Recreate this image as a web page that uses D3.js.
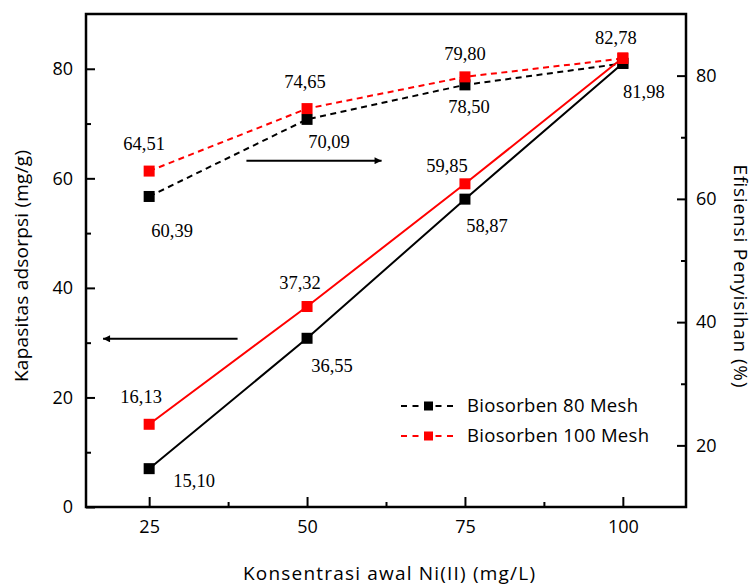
<!DOCTYPE html>
<html>
<head>
<meta charset="utf-8">
<script src="https://cdn.jsdelivr.net/npm/d3@7"></script>
<style>
  body { margin: 0; background: #fff; }
  .axis text { font-family: 'Open Sans', sans-serif; font-size: 18px; fill: #000; }
  .axis path, .axis line { stroke: #000; }
</style>
</head>
<body>
<div id="chart"></div>
<script>
// Data
const concentrations = [25, 50, 75, 100];
const capacity80 = [7.0, 30.8, 56.2, 81.0];        // left axis, solid black
const capacity100 = [15.1, 36.6, 59.0, 82.0];      // left axis, solid red
const efficiency80 = [60.39, 72.9, 78.5, 81.98];   // right axis, dashed black
const efficiency100 = [64.51, 74.65, 79.8, 82.78]; // right axis, dashed red

const labelsEff100 = ["64,51", "74,65", "79,80", "82,78"];
const labelsEff80 = ["60,39", "70,09", "78,50", "81,98"];
const labelsCap100 = ["16,13", "37,32", "59,85", null];
const labelsCap80 = ["15,10", "36,55", "58,87", null];

const xTicks = [25, 50, 75, 100];
const xMinorTicks = [37.5, 62.5, 87.5];
const leftTicks = [0, 20, 40, 60, 80];
const leftMinorTicks = [10, 30, 50, 70];
const rightTicks = [20, 40, 60, 80];
const rightMinorTicks = [30, 50, 70];

const seriesNames = ["Biosorben 80 Mesh", "Biosorben 100 Mesh"];
const seriesColors = ["#000000", "#ff0000"];

const margin = { top: 14, right: 69, bottom: 78, left: 86 };
const width = 755 - margin.left - margin.right;
const height = 585 - margin.top - margin.bottom;

const svg = d3.select("#chart").append("svg")
    .attr("width", 755)
    .attr("height", 585)
    .append("g")
    .attr("transform", `translate(${margin.left},${margin.top})`);

const x = d3.scaleLinear().domain([15, 110]).range([0, width]);
const yLeft = d3.scaleLinear().domain([0, 90]).range([height, 0]);
const yRight = d3.scaleLinear().domain([10, 90]).range([height, 0]);

// Axes (ticks point inward)
svg.append("g").attr("class", "axis")
    .attr("transform", `translate(0,${height})`)
    .call(d3.axisBottom(x).tickValues(xTicks).tickSize(-10).tickPadding(13).tickFormat(d3.format("d")))
    .call(g => g.selectAll("line").attr("stroke-width", 2));
svg.append("g").attr("class", "axis")
    .attr("transform", `translate(0,${height})`)
    .call(d3.axisBottom(x).tickValues(xMinorTicks).tickSize(-5).tickFormat(""))
    .call(g => g.selectAll("line").attr("stroke-width", 2));

svg.append("g").attr("class", "axis")
    .call(d3.axisLeft(yLeft).tickValues(leftTicks).tickSize(-9).tickPadding(13))
    .call(g => g.selectAll("line").attr("stroke-width", 2));
svg.append("g").attr("class", "axis")
    .call(d3.axisLeft(yLeft).tickValues(leftMinorTicks).tickSize(-5).tickFormat(""))
    .call(g => g.selectAll("line").attr("stroke-width", 2));

svg.append("g").attr("class", "axis")
    .attr("transform", `translate(${width},0)`)
    .call(d3.axisRight(yRight).tickValues(rightTicks).tickSize(-9).tickPadding(10))
    .call(g => g.selectAll("line").attr("stroke-width", 2));
svg.append("g").attr("class", "axis")
    .attr("transform", `translate(${width},0)`)
    .call(d3.axisRight(yRight).tickValues(rightMinorTicks).tickSize(-5).tickFormat(""))
    .call(g => g.selectAll("line").attr("stroke-width", 2));

svg.selectAll(".axis path").remove();

// Frame
svg.append("rect")
    .attr("width", width)
    .attr("height", height)
    .attr("fill", "none")
    .attr("stroke", "#000")
    .attr("stroke-width", 2.5);

// Axis titles (stretched to the widths seen in the reference)
function title(text, tx, ty, rot, len) {
    svg.append("text")
        .attr("transform", `translate(${tx - margin.left},${ty - margin.top}) rotate(${rot})`)
        .attr("text-anchor", "middle")
        .attr("textLength", len)
        .attr("lengthAdjust", "spacing")
        .style("font-family", "'Open Sans', sans-serif")
        .style("font-size", "19px")
        .text(text);
}
title("Kapasitas adsorpsi (mg/g)", 28, 266, -90, 232);
title("Efisiensi Penyisihan (%)", 734, 276, 90, 223);
title("Konsentrasi awal Ni(II) (mg/L)", 389, 580, 0, 292);

// Lines
function drawSeries(values, scale, color, dashed) {
    const line = d3.line()
        .x((d, i) => x(concentrations[i]))
        .y(d => scale(d));
    svg.append("path")
        .datum(values)
        .attr("d", line)
        .attr("fill", "none")
        .attr("stroke", color)
        .attr("stroke-width", 2)
        .attr("stroke-dasharray", dashed ? "6,4.5" : null);
}

function drawMarkers(values, scale, color) {
    svg.selectAll(null)
        .data(values)
        .enter().append("rect")
        .attr("x", (d, i) => x(concentrations[i]) - 5.5)
        .attr("y", d => scale(d) - 5.5)
        .attr("width", 11)
        .attr("height", 11)
        .attr("fill", color);
}

drawSeries(efficiency80, yRight, seriesColors[0], true);
drawSeries(capacity80, yLeft, seriesColors[0], false);
drawSeries(efficiency100, yRight, seriesColors[1], true);
drawSeries(capacity100, yLeft, seriesColors[1], false);
drawMarkers(efficiency80, yRight, seriesColors[0]);
drawMarkers(capacity80, yLeft, seriesColors[0]);
drawMarkers(efficiency100, yRight, seriesColors[1]);
drawMarkers(capacity100, yLeft, seriesColors[1]);

// Value labels (offsets from each marker)
function drawLabels(texts, values, scale, offsets) {
    texts.forEach((t, i) => {
        if (t === null) return;
        svg.append("text")
            .attr("x", x(concentrations[i]) + offsets[i][0])
            .attr("y", scale(values[i]) + offsets[i][1])
            .attr("text-anchor", "middle")
            .attr("dy", "0.35em")
            .style("font-family", "'Liberation Serif', 'Times New Roman', serif")
            .style("font-size", "18.5px")
            .text(t);
    });
}

drawLabels(labelsEff100, efficiency100, yRight, [[-5, -28], [-2, -27], [0, -23], [-7, -21]]);
drawLabels(labelsEff80, efficiency80, yRight, [[23, 34], [22, 22], [4, 22], [21, 28]]);
drawLabels(labelsCap100, capacity100, yLeft, [[-8, -28], [-7, -24], [-18, -18], [0, 0]]);
drawLabels(labelsCap80, capacity80, yLeft, [[45, 12], [25, 27], [22, 26], [0, 0]]);

// Arrows showing which axis each group belongs to
svg.append("defs").append("marker")
    .attr("id", "arrowhead")
    .attr("viewBox", "0 0 10 10")
    .attr("refX", 10)
    .attr("refY", 5)
    .attr("markerWidth", 14)
    .attr("markerHeight", 7)
    .attr("markerUnits", "userSpaceOnUse")
    .attr("orient", "auto")
    .append("path")
    .attr("d", "M0,0 L10,5 L0,10 z")
    .attr("fill", "#000");

svg.append("line")
    .attr("x1", x(40.4)).attr("x2", x(61.8))
    .attr("y1", yRight(66.2)).attr("y2", yRight(66.2))
    .attr("stroke", "#000").attr("stroke-width", 2)
    .attr("marker-end", "url(#arrowhead)");

svg.append("line")
    .attr("x1", x(39.0)).attr("x2", x(17.7))
    .attr("y1", yLeft(30.7)).attr("y2", yLeft(30.7))
    .attr("stroke", "#000").attr("stroke-width", 2)
    .attr("marker-end", "url(#arrowhead)");

// Legend
const legend = svg.append("g")
    .attr("transform", `translate(${401 - margin.left},${406 - margin.top})`);

const legendTextLengths = [171, 182];
seriesNames.forEach((name, i) => {
    const row = legend.append("g").attr("transform", `translate(0,${i * 30})`);
    row.append("line")
        .attr("x1", 0).attr("x2", 55)
        .attr("stroke", seriesColors[i])
        .attr("stroke-width", 2)
        .attr("stroke-dasharray", "6,5.5");
    row.append("rect")
        .attr("x", 23).attr("y", -4.5)
        .attr("width", 9).attr("height", 9)
        .attr("fill", seriesColors[i]);
    row.append("text")
        .attr("x", 66)
        .attr("dy", "0.35em")
        .attr("textLength", legendTextLengths[i])
        .attr("lengthAdjust", "spacing")
        .style("font-family", "'Open Sans', sans-serif")
        .style("font-size", "18.5px")
        .text(name);
});
</script>
</body>
</html>
